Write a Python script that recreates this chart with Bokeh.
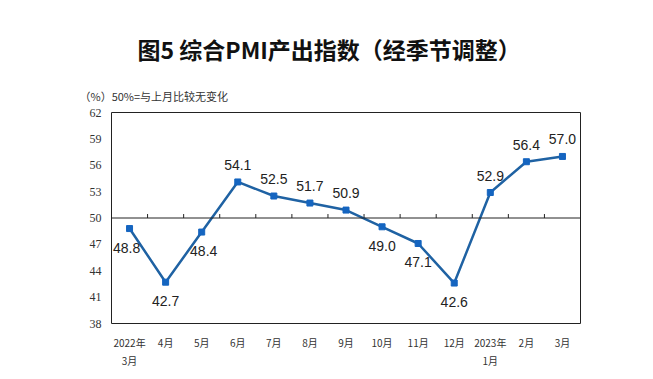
from bokeh.plotting import figure
from bokeh.models import Range1d, FixedTicker, Title, Span, ColumnDataSource
from bokeh.embed import file_html
from bokeh.resources import INLINE
from bokeh.core.properties import value

months = ["2022年\n3月", "4月", "5月", "6月", "7月", "8月", "9月", "10月", "11月", "12月", "2023年\n1月", "2月", "3月"]
pmi = [48.8, 42.7, 48.4, 54.1, 52.5, 51.7, 50.9, 49.0, 47.1, 42.6, 52.9, 56.4, 57.0]
label_side = ["below", "below", "below", "above", "above", "above", "above", "below", "below", "below", "above", "above", "above"]
y_ticks = [38, 41, 44, 47, 50, 53, 56, 59, 62]
baseline = 50

idx = list(range(len(months)))
src = ColumnDataSource(dict(
    x=idx, y=pmi, txt=["%.1f" % v for v in pmi],
    yo=[-17 if s == "above" else 19 for s in label_side],
    xo=[-3 if i == 0 else (2 if i == 2 else 0) for i in idx],
))

p = figure(width=637, height=370, output_backend="svg", toolbar_location=None,
           x_range=Range1d(-0.5, len(months) - 0.5), y_range=Range1d(y_ticks[0], y_ticks[-1]),
           min_border_left=111, min_border_right=57, min_border_bottom=42, min_border_top=112)
p.title.visible = False

sub = Title(text="（%）50%=与上月比较无变化", align="left", offset=-32,
            text_font="Noto Sans CJK SC", text_font_size="11px", text_font_style="normal",
            text_color="#333333", standoff=18)
p.add_layout(sub, "above")
main = Title(text="图5 综合PMI产出指数（经季节调整）", align="left", offset=26,
             text_font="Noto Sans CJK SC", text_font_size="23px", text_font_style="bold",
             text_color="#111111", standoff=22)
p.add_layout(main, "above")

p.outline_line_color = "#222222"
p.outline_line_width = 1
p.xgrid.visible = False
p.ygrid.visible = False

p.yaxis.ticker = FixedTicker(ticks=y_ticks)
p.yaxis.axis_line_color = None
p.yaxis.major_tick_line_color = None
p.yaxis.minor_tick_line_color = None
p.yaxis.major_tick_out = 0
p.yaxis.major_tick_in = 0
p.yaxis.major_label_text_font = "Liberation Serif"
p.yaxis.major_label_text_font_size = "12px"
p.yaxis.major_label_text_color = "#333333"
p.yaxis.major_label_standoff = 10

p.xaxis.ticker = FixedTicker(ticks=idx)
p.xaxis.major_label_overrides = {i: m for i, m in zip(idx, months)}
p.xaxis.axis_line_color = None
p.xaxis.major_tick_line_color = None
p.xaxis.minor_tick_line_color = None
p.xaxis.major_tick_out = 0
p.xaxis.major_tick_in = 0
p.xaxis.major_label_text_font = "Noto Sans CJK SC"
p.xaxis.major_label_text_font_size = "10px"
p.xaxis.major_label_text_color = "#333333"
p.xaxis.major_label_standoff = 11

p.add_layout(Span(location=baseline, dimension="width", line_color="#222222", line_width=1))
bx = [i + 0.5 for i in idx[:-1]]
p.segment(x0=bx, y0=[baseline] * len(bx), x1=bx, y1=[baseline + 0.45] * len(bx),
          line_color="#222222", line_width=1)

p.line("x", "y", source=src, line_color="#1f62a3", line_width=2.5)
p.scatter("x", "y", source=src, marker="square", size=6, fill_color="#1565c0", line_color="#1565c0")
p.text("x", "y", text="txt", source=src, x_offset="xo", y_offset="yo",
       text_align="center", text_baseline="middle",
       text_font=value("Liberation Sans"), text_font_size="14px", text_color="#222222")

open("out.html", "w").write(file_html(p, INLINE))
